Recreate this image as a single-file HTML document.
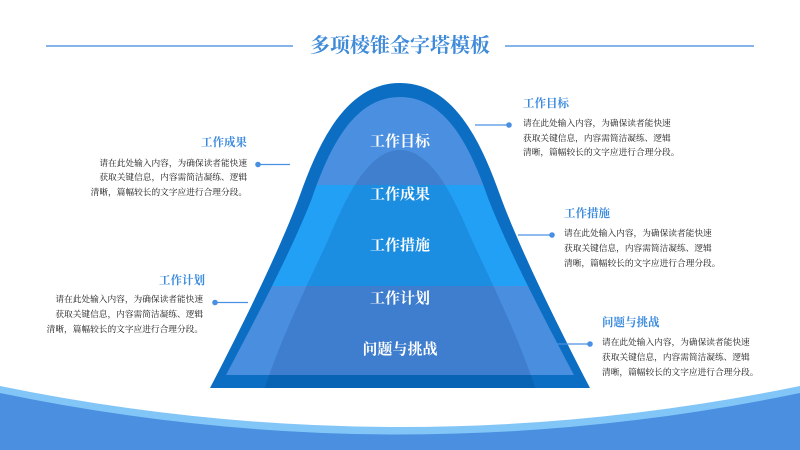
<!DOCTYPE html>
<html>
<head>
<meta charset="utf-8">
<style>
  html,body{margin:0;padding:0;}
  body{width:800px;height:450px;position:relative;overflow:hidden;background:#fff;
    font-family:"Liberation Serif","Noto Serif CJK SC",serif;}
  svg{position:absolute;left:0;top:0;}
  .t{position:absolute;white-space:nowrap;font-weight:700;color:#3a8ade;font-size:11.5px;line-height:16px;}
  .b{position:absolute;white-space:nowrap;color:#151515;font-size:8.7px;line-height:15px;}
  .r{text-align:right;}
  .ml{position:absolute;left:300px;width:200px;text-align:center;color:#fff;font-weight:700;font-size:15px;line-height:20px;white-space:nowrap;}
  .title{position:absolute;left:300px;width:200px;top:34px;text-align:center;color:#3f8ad9;font-weight:700;font-size:20px;line-height:24px;white-space:nowrap;}
</style>
</head>
<body>
<svg width="800" height="450" viewBox="0 0 800 450">
  <defs>
    <clipPath id="innerClip">
      <path d="M226,375 C254,322 292,250 312,198 C328,152 352,97 400,97 C448,97 472,152 488,198 C508,250 546,322 574,375 Z"/>
    </clipPath>
    <clipPath id="outerClip">
      <path d="M210,388 C240,330 280,250 300,195 C318,145 345,83 400,83 C455,83 482,145 500,195 C520,250 560,330 590,388 Z"/>
    </clipPath>
  </defs>
  <!-- bottom wave -->
  <path d="M0,386 Q400,468 800,386 L800,450 L0,450 Z" fill="#82c5f7"/>
  <path d="M0,393 Q400,476 800,393 L800,450 L0,450 Z" fill="#4a8fe0"/>

  <!-- header lines -->
  <line x1="46" y1="46" x2="293" y2="46" stroke="#5b9be0" stroke-width="1.5"/>
  <line x1="505" y1="46" x2="754" y2="46" stroke="#5b9be0" stroke-width="1.5"/>

  <!-- mountain outer -->
  <path d="M210,388 C240,330 280,250 300,195 C318,145 345,83 400,83 C455,83 482,145 500,195 C520,250 560,330 590,388 Z" fill="#0b6ec2"/>
  <!-- inner bands -->
  <g clip-path="url(#innerClip)">
    <rect x="200" y="90" width="400" height="95" fill="#4b8fe0"/>
    <rect x="200" y="185" width="400" height="101" fill="#22a0f6"/>
    <rect x="200" y="286" width="400" height="95" fill="#4a8ee0"/>
  </g>
  <!-- inner hill overlay -->
  <g clip-path="url(#outerClip)">
    <path d="M264,390 C282,335 312,275 328,240 C342,208 365,150 400,150 C435,150 458,208 472,240 C488,275 518,335 536,390 Z" fill="rgba(0,40,110,0.15)"/>
  </g>

  <!-- connectors -->
  <g stroke="#4a90e2" stroke-width="1.2">
    <line x1="258" y1="164.5" x2="290" y2="164.5"/>
    <line x1="215" y1="302.5" x2="248" y2="302.5"/>
    <line x1="475" y1="125" x2="509" y2="125"/>
    <line x1="518" y1="235" x2="552" y2="235"/>
    <line x1="557" y1="344" x2="590" y2="344"/>
  </g>
  <g fill="#4a90e2">
    <circle cx="258" cy="164.5" r="2.8"/>
    <circle cx="215" cy="302.5" r="2.8"/>
    <circle cx="509" cy="125" r="2.8"/>
    <circle cx="552" cy="235" r="2.8"/>
    <circle cx="590" cy="344" r="2.8"/>
  </g>
</svg>

<div class="title">多项棱锥金字塔模板</div>

<div class="ml" style="top:132px;">工作目标</div>
<div class="ml" style="top:185px;">工作成果</div>
<div class="ml" style="top:236px;">工作措施</div>
<div class="ml" style="top:289px;">工作计划</div>
<div class="ml" style="top:340px;">问题与挑战</div>

<!-- left A -->
<div class="t r" style="right:553px;top:135px;">工作成果</div>
<div class="b r" style="right:553px;top:155.75px;line-height:14.5px;">请在此处输入内容，为确保读者能快速<br>获取关键信息，内容需简洁凝练、逻辑<br>清晰，篇幅较长的文字应进行合理分段。</div>

<!-- left B -->
<div class="t r" style="right:595px;top:273px;">工作计划</div>
<div class="b r" style="right:597px;top:291.5px;">请在此处输入内容，为确保读者能快速<br>获取关键信息，内容需简洁凝练、逻辑<br>清晰，篇幅较长的文字应进行合理分段。</div>

<!-- right A -->
<div class="t" style="left:523px;top:96px;">工作目标</div>
<div class="b" style="left:523px;top:116px;line-height:14.5px;">请在此处输入内容，为确保读者能快速<br>获取关键信息，内容需简洁凝练、逻辑<br>清晰，篇幅较长的文字应进行合理分段。</div>

<!-- right B -->
<div class="t" style="left:564px;top:206px;">工作措施</div>
<div class="b" style="left:564px;top:225.5px;">请在此处输入内容，为确保读者能快速<br>获取关键信息，内容需简洁凝练、逻辑<br>清晰，篇幅较长的文字应进行合理分段。</div>

<!-- right C -->
<div class="t" style="left:602px;top:315px;">问题与挑战</div>
<div class="b" style="left:602px;top:334.5px;">请在此处输入内容，为确保读者能快速<br>获取关键信息，内容需简洁凝练、逻辑<br>清晰，篇幅较长的文字应进行合理分段。</div>
</body>
</html>
